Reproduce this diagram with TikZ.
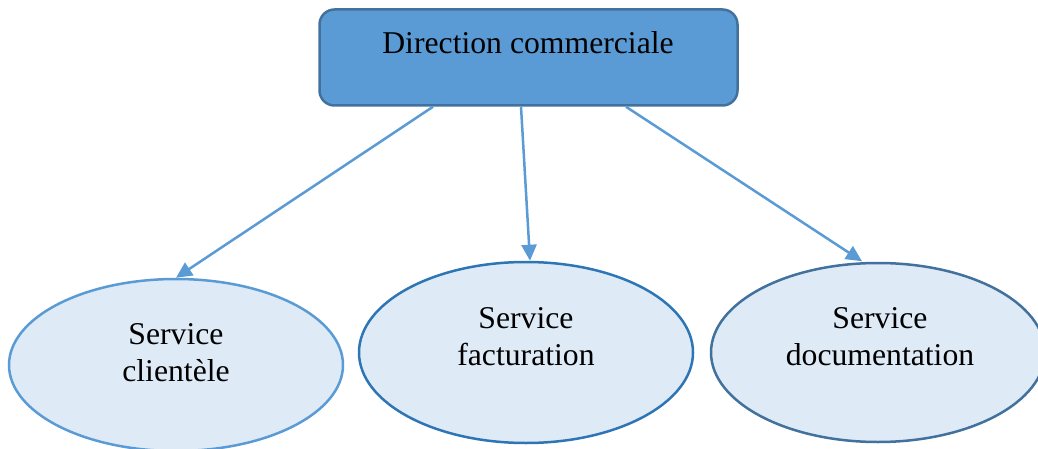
\documentclass[tikz,border=0pt]{standalone}
\usepackage{fontspec}
\setmainfont{Liberation Serif}
\usetikzlibrary{arrows.meta,shapes.geometric}
\definecolor{headfill}{HTML}{5B9BD5}
\definecolor{headline}{HTML}{41719C}
\definecolor{svcfill}{HTML}{DEEBF7}
\definecolor{linkblue}{HTML}{5B9BD5}
\definecolor{midblue}{HTML}{2E75B6}
\definecolor{darkblue}{HTML}{41719C}
\tikzset{
  headbox/.style={draw=headline, fill=headfill, line width=2.5pt, rounded corners=15pt,
    minimum width=418pt, minimum height=96pt, inner sep=0pt},
  svc/.style={ellipse, fill=svcfill, line width=2.5pt, inner sep=0pt,
    minimum width=334pt, minimum height=178pt},
  lbl/.style={align=center, inner sep=0pt, font=\fontsize{31.7}{36.7}\selectfont},
  link/.style={draw=linkblue, line width=2.5pt, -{Triangle[length=16pt,width=15pt]}}
}
\begin{document}
\begin{tikzpicture}[x=1pt,y=-1pt]
\useasboundingbox (0,0) rectangle (1038,449);
% management box
\node[headbox] (dir) at (528.5,57.5) {};
\node[lbl, anchor=base] (dirtxt) at (528,54) {Direction commerciale};
% service ellipses
\node[svc, draw=linkblue, minimum height=172pt] (e1) at (176,365) {};
\node[lbl] (t1) at (176,352.6) {Service\\clientèle};
\node[svc, draw=midblue, minimum height=181pt] (e2) at (526,352.5) {};
\node[lbl] (t2) at (526,336.6) {Service\\facturation};
\node[svc, draw=darkblue, minimum height=179pt] (e3) at (878,352.5) {};
\node[lbl] (t3) at (880,336.6) {Service\\documentation};
% connectors
\draw[link] ([xshift=-95.5pt]dir.south) -- (e1.north);
\draw[link] ([xshift=-7.5pt]dir.south) -- ([xshift=4pt]e2.north);
\draw[link] ([xshift=97.5pt]dir.south) -- ([xshift=-16pt,yshift=0.5pt]e3.north);
\end{tikzpicture}
\end{document}
